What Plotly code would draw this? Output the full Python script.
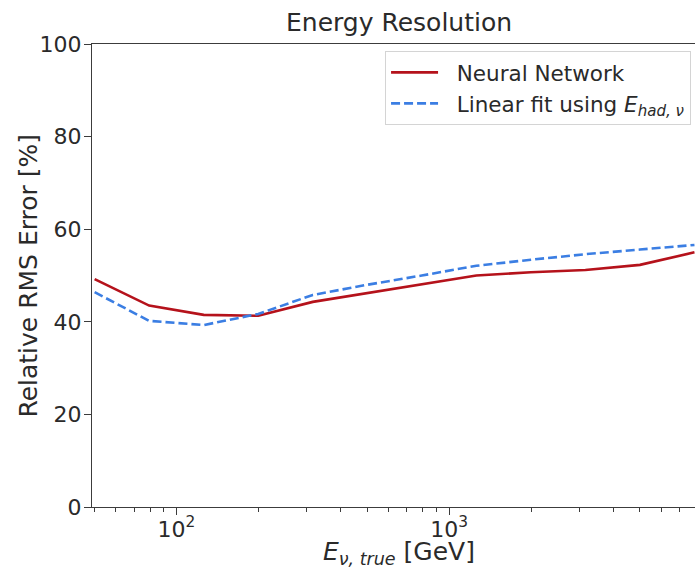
import numpy as np
import plotly.graph_objects as go

# Bin centres of true neutrino energy [GeV]
energy_gev = [50.1, 79.4, 125.9, 199.5, 316.2, 501.2, 794.3, 1258.9, 1995.3, 3162.3, 5011.9, 7943.3]

# Relative RMS error [%] per energy bin
nn_rms = [49.2, 43.5, 41.5, 41.3, 44.3, 46.2, 48.2, 50.0, 50.7, 51.2, 52.3, 55.0]
linfit_rms = [46.4, 40.2, 39.3, 41.7, 45.8, 48.0, 50.0, 52.1, 53.4, 54.6, 55.6, 56.6]

y_ticks = [0, 20, 40, 60, 80, 100]
x_ticks = [100, 1000]
x_tick_text = ["10<sup>2</sup>", "10<sup>3</sup>"]
x_minor = [50, 60, 70, 80, 90, 200, 300, 400, 500, 600, 700, 800, 900,
           2000, 3000, 4000, 5000, 6000, 7000, 8000]

FONT = "DejaVu Sans"
TXT = "#2a2a2a"
AX = "#3c3c3c"
PAD = "\u00a0\u00a0"

fig = go.Figure()
fig.add_trace(go.Scatter(
    x=energy_gev, y=nn_rms, mode="lines", name=PAD + "Neural Network",
    line=dict(color="#b5121b", width=2.6),
))
fig.add_trace(go.Scatter(
    x=energy_gev, y=linfit_rms, mode="lines",
    name=PAD + "Linear fit using <i>E</i><sub><i>had, ν</i></sub>",
    line=dict(color="#3b7ee3", width=2.6, dash="9px,4px"),
))

fig.update_layout(
    width=695, height=569,
    margin=dict(l=92, r=0, t=44, b=62),
    paper_bgcolor="white", plot_bgcolor="white",
    font=dict(family=FONT, size=22, color=TXT),
    showlegend=True,
    legend=dict(
        x=0.486, y=0.985, xanchor="left", yanchor="top",
        bgcolor="white", bordercolor="#d4d4d4", borderwidth=1,
        font=dict(family=FONT, size=21.5, color=TXT),
        tracegroupgap=0, itemwidth=47,
    ),
)

fig.update_xaxes(
    type="log", range=[np.log10(49.0), 3.902],
    tickmode="array", tickvals=x_ticks, ticktext=x_tick_text,
    ticks="outside", ticklen=7, tickwidth=1.2, tickcolor=AX,
    ticklabelstandoff=-5,
    showline=True, linecolor=AX, linewidth=1.3, mirror=True,
    showgrid=False, zeroline=False,
    tickfont=dict(family=FONT, size=22, color=TXT),
    minor=dict(tickmode="array", tickvals=x_minor, ticks="outside",
               ticklen=3.5, tickwidth=1, tickcolor=AX, showgrid=False),
)
fig.update_yaxes(
    range=[0, 100], tickmode="array", tickvals=y_ticks,
    ticks="outside", ticklen=7, tickwidth=1.2, tickcolor=AX,
    ticklabelstandoff=-2,
    showline=True, linecolor=AX, linewidth=1.3,
    showgrid=False, zeroline=False,
    tickfont=dict(family=FONT, size=22, color=TXT),
)

# Title and axis labels
fig.add_annotation(text="Energy Resolution", xref="paper", yref="paper",
                   x=0.509, y=1.0475, xanchor="center", yanchor="middle",
                   showarrow=False, font=dict(family=FONT, size=25, color=TXT))
fig.add_annotation(text="<i>E</i><sub><i>ν, true</i></sub> [GeV]",
                   xref="paper", yref="paper", x=0.509, y=-0.10,
                   xanchor="center", yanchor="middle", showarrow=False,
                   font=dict(family=FONT, size=25, color=TXT))
fig.add_annotation(text="Relative RMS Error [%]", xref="paper", yref="paper",
                   x=-0.106, y=0.5, xanchor="center", yanchor="middle",
                   textangle=-90, showarrow=False,
                   font=dict(family=FONT, size=25, color=TXT))

fig.write_html("out.html")
